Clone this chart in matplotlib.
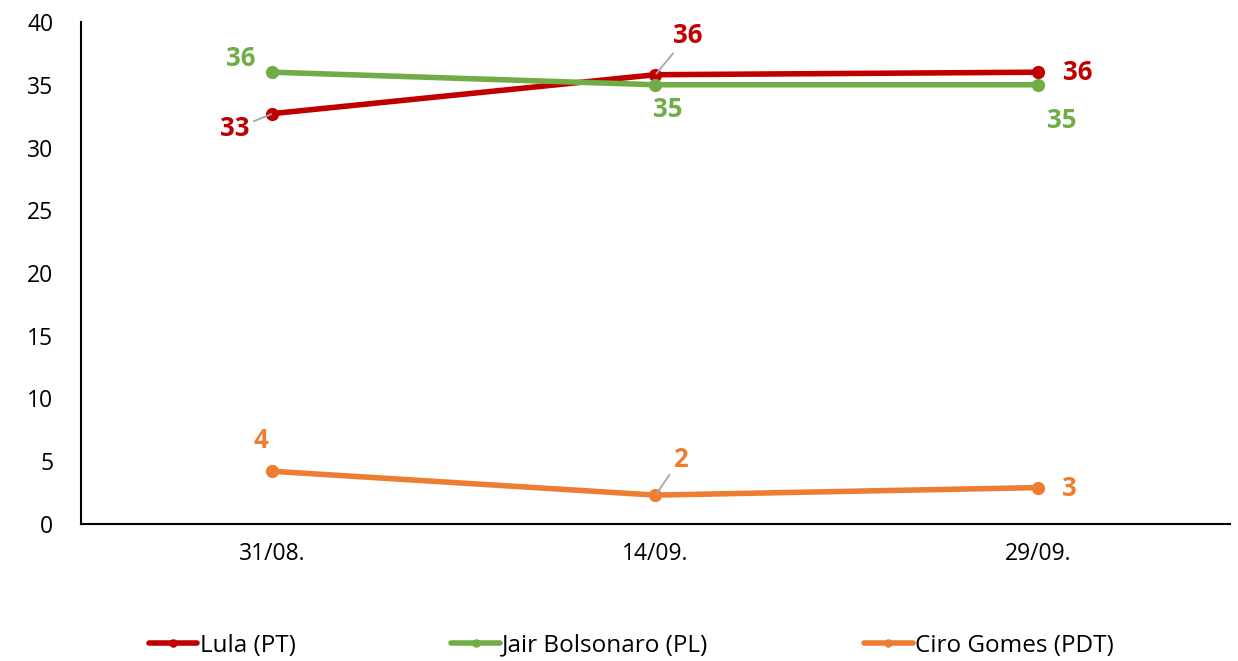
import matplotlib
matplotlib.use('Agg')
import matplotlib.pyplot as plt

# poll data
dates = ['31/08.', '14/09.', '29/09.']
lula = [32.7, 35.8, 36.0]
bolsonaro = [36.0, 35.0, 35.0]
ciro = [4.2, 2.3, 2.9]

names = ['Lula (PT)', 'Jair Bolsonaro (PL)', 'Ciro Gomes (PDT)']
colors = ['#C00000', '#70AD47', '#ED7D31']

# label offsets in points, per series and point
offsets = [
    [(-27, -11), (23, 28), (28, 0)],
    [(-23, 10), (9, -18), (17, -26)],
    [(-8, 22), (18, 26), (22, -1)],
]
leaders = [[True, True, False], [False, False, False], [False, True, False]]

plt.rcParams['font.family'] = ['Open Sans', 'DejaVu Sans']

fig = plt.figure(figsize=(12.38, 6.61), dpi=100)
ax = fig.add_axes([0.0654, 0.2073, 0.9281, 0.7594])

xs = [i + 0.5 for i in range(len(dates))]
series = [lula, bolsonaro, ciro]

for vals, name, color, offs, leads in zip(series, names, colors, offsets, leaders):
    ax.plot(xs, vals, color=color, linewidth=4, marker='o', markersize=8.5,
            label=name, solid_capstyle='round', zorder=3)
    for x, v, off, lead in zip(xs, vals, offs, leads):
        arrow = dict(arrowstyle='-', color='#A6A6A6', lw=1.3, shrinkA=1, shrinkB=1) if lead else None
        ax.annotate(f'{round(v):d}', xy=(x, v), xytext=off, textcoords='offset points',
                    ha='center', va='center', fontsize=18.5, fontweight='bold', color=color,
                    arrowprops=arrow, zorder=4)

ax.set_xlim(0, 3)
ax.set_ylim(0, 40)
ax.set_yticks(range(0, 41, 5))
ax.set_xticks(xs)
ax.set_xticklabels(dates)
ax.tick_params(axis='both', length=0, labelsize=16.5, colors='#000000')
ax.tick_params(axis='y', pad=20)
ax.tick_params(axis='x', pad=13)
ax.spines['top'].set_visible(False)
ax.spines['right'].set_visible(False)
ax.spines['left'].set_linewidth(1.5)
ax.spines['bottom'].set_linewidth(1.5)

fig.legend(loc='lower center', bbox_to_anchor=(0.51, -0.028), ncol=3, frameon=False,
           fontsize=17.5, handlelength=2.0, handletextpad=0.1, columnspacing=6.4,
           markerscale=0.6)

fig.savefig('out.png', dpi=100)
